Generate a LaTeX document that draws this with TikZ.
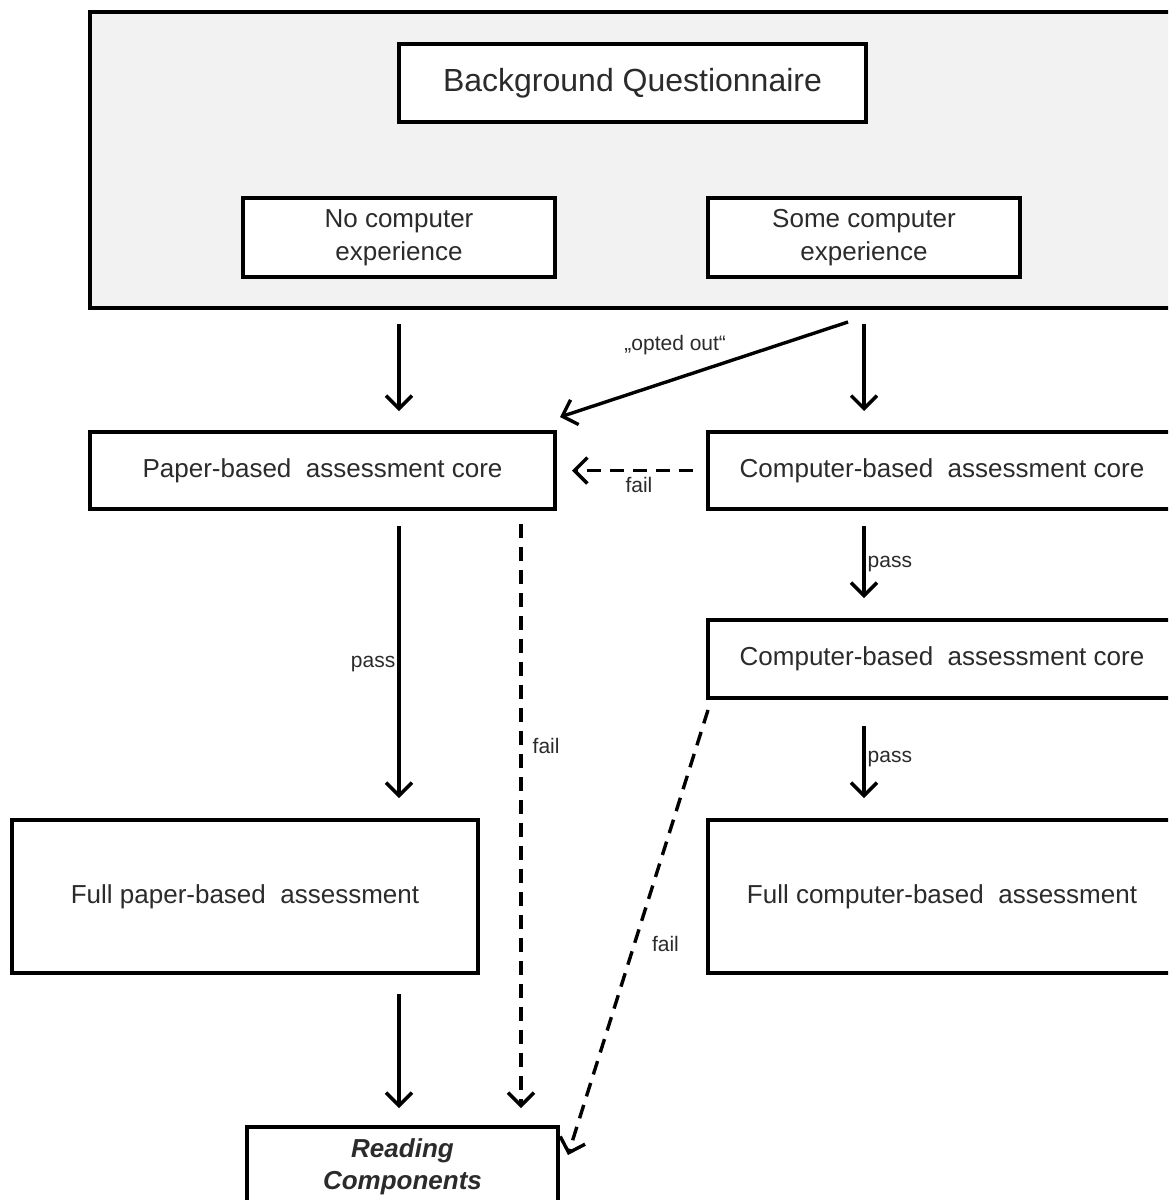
\documentclass[tikz,border=0pt]{standalone}
\usepackage{fontspec}
\setmainfont{Liberation Sans}
\usepackage{tikz}
\usetikzlibrary{arrows.meta, positioning, calc}
\usepackage{xcolor}
\definecolor{framegray}{HTML}{F2F2F2}
\definecolor{txtgray}{HTML}{2B2B2B}

\begin{document}
\begin{tikzpicture}[
    x=1pt, y=-1pt,
    box/.style = {rectangle, draw=black, fill=white, line width=4pt, inner sep=0pt, align=center, text=txtgray, font=\fontsize{26}{33}\selectfont},
    lbl/.style = {text=txtgray, font=\fontsize{21}{24}\selectfont, inner sep=2pt},
    arr/.style = {line width=3.4pt, -{Straight Barb[length=13pt, width=26pt]}},
    dasharr/.style = {arr, dash pattern=on 14pt off 9pt}
]
\useasboundingbox (0,0) rectangle (1168,1200);
\clip (0,0) rectangle (1168,1200);
\fill[white] (0,0) rectangle (1168,1200);

% Questionnaire frame
\node (bgframe) [box, fill=framegray, minimum width=1086pt, minimum height=296pt] at (633,160) {};
\node (bq) [box, minimum width=467pt, minimum height=78pt, font=\fontsize{32}{36}\selectfont] at (632.5,83) {Background Questionnaire};
\node (nocomp) [box, minimum width=312pt, minimum height=79pt] at (399,237.5) {No computer\\experience};
\node (somecomp) [box, minimum width=312pt, minimum height=79pt] at (864,237.5) {Some computer\\experience};

% Assessment cores
\node (pbacore) [box, minimum width=465pt, minimum height=77pt] at (322.5,470.5) {Paper-based\ \ assessment core};
\node (cbacore) [box, minimum width=468pt, minimum height=77pt] at (942,470.5) {Computer-based\ \ assessment core};
\node (cbacoretwo) [box, minimum width=468pt, minimum height=78pt] at (942,659) {Computer-based\ \ assessment core};

% Full assessments
\node (fullpba) [box, minimum width=466pt, minimum height=153pt] at (245,896.5) {Full paper-based\ \ assessment};
\node (fullcba) [box, minimum width=468pt, minimum height=153pt] at (942,896.5) {Full computer-based\ \ assessment};

% Reading components
\node (readcomp) [box, minimum width=311pt, minimum height=79pt, font=\fontsize{26}{32}\selectfont\bfseries\itshape] at (402.5,1166.5) {Reading\\Components};

% Free ends
\coordinate (optstart) at (848,322);
\coordinate (optend) at (560,417);
\coordinate (pbafail) at (521,509);
\coordinate (cbafailstart) at (708,710);
\coordinate (cbafailend) at (568,1155);

% Connections
\draw [arr, shorten <=14pt, shorten >=19pt] (nocomp |- bgframe.south) -- (nocomp |- pbacore.north);
\draw [arr, shorten <=14pt, shorten >=19pt] (somecomp |- bgframe.south) -- (somecomp |- cbacore.north);
\draw [arr] (optstart) -- node[lbl, pos=0.6, above=20pt]{„opted out“} (optend);

\draw [dasharr, shorten <=13pt, shorten >=15pt] (cbacore.west) -- node[lbl, pos=0.45, below=3pt]{fail} (pbacore.east);
\draw [arr, shorten <=15pt, shorten >=20pt] (somecomp |- cbacore.south) -- node[lbl, right]{pass} (somecomp |- cbacoretwo.north);
\draw [arr, shorten <=26pt, shorten >=20pt] (somecomp |- cbacoretwo.south) -- node[lbl, right]{pass} (somecomp |- fullcba.north);

\draw [arr, shorten <=15pt, shorten >=20pt] (nocomp |- pbacore.south) -- node[lbl, left]{pass} (nocomp |- fullpba.north);
\draw [dasharr, shorten <=15pt, shorten >=17pt] (pbafail) -- node[lbl, pos=0.384, right=8pt]{fail} (pbafail |- readcomp.north);
\draw [arr, shorten <=19pt, shorten >=17pt] (nocomp |- fullpba.south) -- (nocomp |- readcomp.north);
\draw [dasharr] (cbafailstart) -- node[lbl, pos=0.526, right=14pt]{fail} (cbafailend);

\end{tikzpicture}
\end{document}
